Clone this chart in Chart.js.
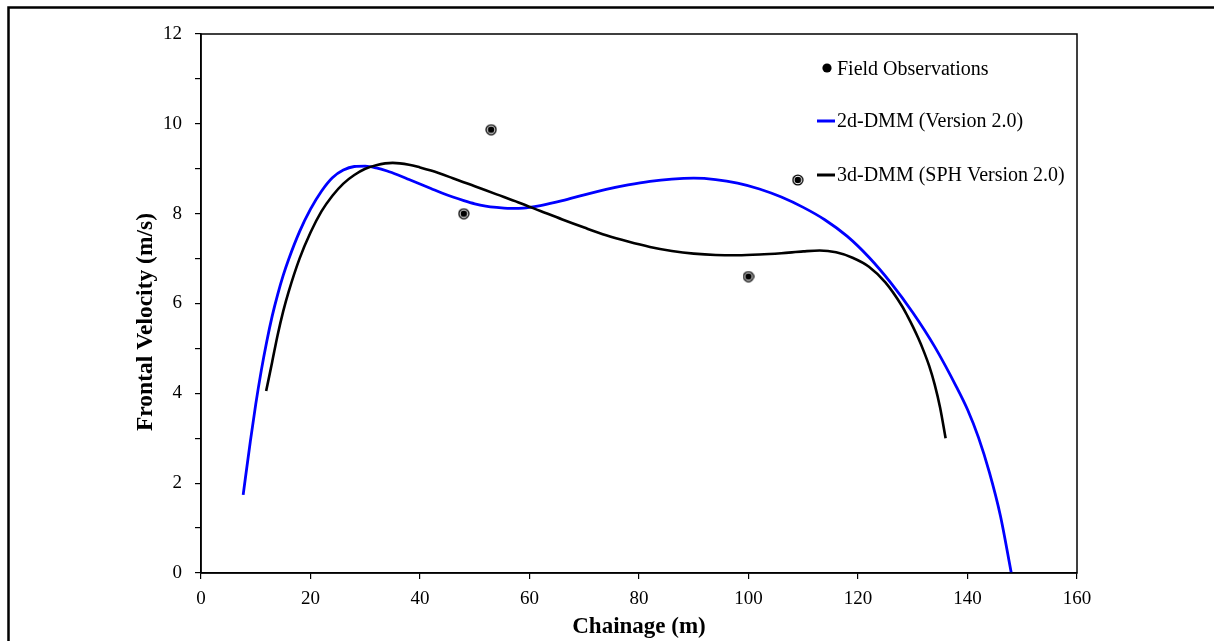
<!DOCTYPE html>
<html>
<head>
<meta charset="utf-8">
<script src="https://cdn.jsdelivr.net/npm/chart.js@4/dist/chart.umd.min.js"></script>
<style>
  html, body { margin: 0; padding: 0; background: #fff; }
  #wrap { width: 1214px; height: 641px; }
</style>
</head>
<body>
<div id="wrap"><canvas id="frontChart" width="1214" height="641"></canvas></div>
<script>
// Field observations (chainage m, velocity m/s)
const obsX = [48, 53, 100, 109];
const obsY = [8.0, 9.87, 6.6, 8.75];

// 2d-DMM (Version 2.0) run
const dmm2X = [7.7, 9, 10, 11, 12, 13, 14, 15, 16, 18, 20, 22, 24, 26, 28, 30, 32, 34, 36, 38, 40, 42, 44, 46, 48, 50, 52, 54, 56, 58, 60, 62, 66, 70, 74, 78, 82, 86, 90, 94, 98, 102, 106, 110, 114, 118, 122, 126, 130, 134, 138, 140, 142, 144, 146, 148];
const dmm2Y = [1.74, 2.92, 3.76, 4.5, 5.15, 5.72, 6.2, 6.62, 6.98, 7.6, 8.1, 8.5, 8.8, 8.97, 9.05, 9.06, 9.02, 8.95, 8.86, 8.76, 8.66, 8.56, 8.46, 8.37, 8.29, 8.22, 8.17, 8.14, 8.12, 8.12, 8.14, 8.18, 8.29, 8.42, 8.54, 8.64, 8.72, 8.77, 8.79, 8.76, 8.68, 8.55, 8.37, 8.14, 7.86, 7.50, 7.03, 6.46, 5.80, 5.04, 4.14, 3.64, 3.02, 2.24, 1.28, 0];

// 3d-DMM (SPH Version 2.0) run
const dmm3X = [11.9, 13, 14, 15, 16, 18, 20, 22, 24, 26, 28, 30, 32, 35, 38, 40, 42, 46, 50, 54, 58, 62, 66, 70, 74, 78, 82, 86, 90, 94, 98, 102, 106, 110, 113, 116, 119, 122, 125, 128, 129, 130, 131, 132, 133, 134, 135, 136];
const dmm3Y = [4.05, 4.7, 5.3, 5.82, 6.26, 7.0, 7.58, 8.05, 8.4, 8.67, 8.86, 9.0, 9.08, 9.13, 9.09, 9.03, 8.96, 8.79, 8.61, 8.43, 8.25, 8.06, 7.87, 7.69, 7.52, 7.38, 7.26, 7.17, 7.11, 7.08, 7.075, 7.09, 7.12, 7.16, 7.18, 7.14, 7.02, 6.82, 6.47, 5.95, 5.73, 5.49, 5.23, 4.94, 4.61, 4.2, 3.68, 3.0];

const xTicks = [0, 20, 40, 60, 80, 100, 120, 140, 160];
const yTicks = [0, 2, 4, 6, 8, 10, 12];

const serif = '"Liberation Serif", "Times New Roman", serif';

const toPoints = (xs, ys) => xs.map((x, i) => ({ x: x, y: ys[i] }));

// bullseye marker: black disc, white ring, black centre
function makeMarker() {
    const c = document.createElement('canvas');
    c.width = 12; c.height = 12;
    const g = c.getContext('2d');
    g.fillStyle = '#000';
    g.beginPath(); g.arc(6, 6, 5.6, 0, Math.PI * 2); g.fill();
    g.fillStyle = '#fff';
    g.beginPath(); g.arc(6, 6, 4.3, 0, Math.PI * 2); g.fill();
    g.fillStyle = '#000';
    g.beginPath(); g.arc(6, 6, 3.3, 0, Math.PI * 2); g.fill();
    return c;
}

// frame around the plot area, outer page frame, y title and the in-plot legend
const decorations = {
    id: 'decorations',
    afterDraw(chart) {
        const ctx = chart.ctx;
        const a = chart.chartArea;
        ctx.save();
        ctx.strokeStyle = '#000';
        ctx.lineWidth = 1.5;
        ctx.strokeRect(a.left, a.top, a.right - a.left, a.bottom - a.top);

        ctx.lineWidth = 2.5;
        ctx.strokeRect(8.5, 7.5, 1300, 800);

        // y axis title, sits a little below the plot's middle
        ctx.save();
        ctx.translate(146, 322);
        ctx.rotate(-Math.PI / 2);
        ctx.font = 'bold 23.5px ' + serif;
        ctx.textAlign = 'center';
        ctx.textBaseline = 'middle';
        ctx.fillStyle = '#000';
        ctx.fillText('Frontal Velocity (m/s)', 0, 0);
        ctx.restore();

        // legend
        ctx.font = '20px ' + serif;
        ctx.textBaseline = 'middle';
        ctx.fillStyle = '#000';
        const ds = chart.data.datasets;
        const rows = [
            { y: 69, ds: ds[0] },
            { y: 121, ds: ds[1] },
            { y: 175, ds: ds[2] }
        ];
        rows.forEach(r => {
            if (r.ds.showLine) {
                ctx.strokeStyle = r.ds.borderColor;
                ctx.lineWidth = 3;
                ctx.beginPath();
                ctx.moveTo(817, r.y);
                ctx.lineTo(835, r.y);
                ctx.stroke();
            } else {
                ctx.beginPath();
                ctx.arc(827, r.y - 1, 4.6, 0, Math.PI * 2);
                ctx.fill();
            }
            ctx.fillText(r.ds.label, 837, r.y + 1);
        });
        ctx.restore();
    }
};

const ctx = document.getElementById('frontChart').getContext('2d');
new Chart(ctx, {
    type: 'scatter',
    data: {
        datasets: [
            {
                label: 'Field Observations',
                data: toPoints(obsX, obsY),
                pointStyle: makeMarker(),
                pointRadius: 6,
                showLine: false,
                order: 0
            },
            {
                label: '2d-DMM (Version 2.0)',
                data: toPoints(dmm2X, dmm2Y),
                showLine: true,
                borderColor: '#0000ff',
                borderWidth: 2.8,
                pointRadius: 0,
                cubicInterpolationMode: 'monotone',
                order: 2
            },
            {
                label: '3d-DMM (SPH Version 2.0)',
                data: toPoints(dmm3X, dmm3Y),
                showLine: true,
                borderColor: '#000000',
                borderWidth: 2.6,
                pointRadius: 0,
                cubicInterpolationMode: 'monotone',
                order: 1
            }
        ]
    },
    options: {
        responsive: false,
        animation: false,
        devicePixelRatio: 1,
        layout: { padding: { top: 34, right: 137, left: 132, bottom: 0 } },
        plugins: {
            legend: { display: false },
            tooltip: { enabled: false }
        },
        scales: {
            x: {
                type: 'linear',
                min: 0,
                max: 160,
                afterBuildTicks: s => { s.ticks = xTicks.map(v => ({ value: v })); },
                afterFit: s => { s.height = 68; },
                border: { display: true, color: '#000', width: 1.5 },
                grid: { drawOnChartArea: false, drawTicks: true, tickLength: 6, color: '#000', lineWidth: 1.2 },
                ticks: { color: '#000', font: { family: serif, size: 19 }, padding: 9, maxRotation: 0 },
                title: {
                    display: true,
                    text: 'Chainage (m)',
                    color: '#000',
                    font: { family: serif, size: 23, weight: 'bold' },
                    padding: { top: 0, bottom: 0 }
                }
            },
            y: {
                type: 'linear',
                min: 0,
                max: 12,
                ticks: {
                    stepSize: 1,
                    color: '#000',
                    font: { family: serif, size: 19 },
                    padding: 13,
                    callback: v => (yTicks.includes(v) ? String(v) : '')
                },
                afterFit: s => { s.width = 69; },
                border: { display: true, color: '#000', width: 1.5 },
                grid: { drawOnChartArea: false, drawTicks: true, tickLength: 6, color: '#000', lineWidth: 1.2 },
                title: { display: false }
            }
        }
    },
    plugins: [decorations]
});
</script>
</body>
</html>
